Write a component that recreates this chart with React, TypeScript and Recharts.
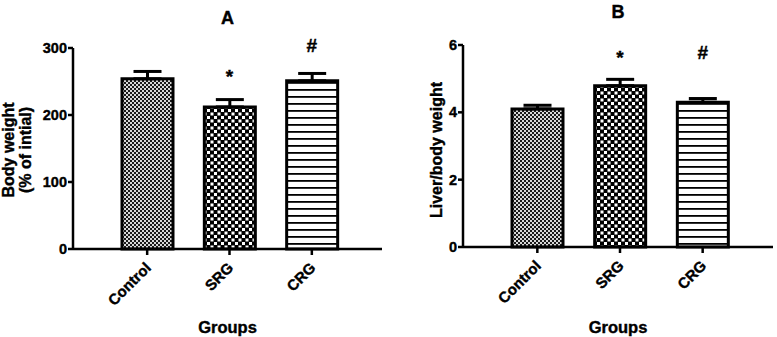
import React from "react";
import {
  BarChart,
  Bar,
  XAxis,
  YAxis,
  ErrorBar,
  ReferenceDot,
  Cell,
} from "recharts";

const FONT = '"Liberation Sans", Arial, Helvetica, sans-serif';
const HEAVY = { stroke: "#000", strokeWidth: 0.4 };

const groups = ["Control", "SRG", "CRG"];

// Panel A: body weight, % of initial
const bodyWeight = [254, 212, 251];
const bodyWeightSem = [11, 11, 11];
const bodyWeightTicks = [0, 100, 200, 300];
const bodyWeightMarks = ["", "*", "#"];
const bodyWeightMarkLevels = [0, 258, 304];

// Panel B: liver / body weight ratio
const liverRatio = [4.1, 4.79, 4.3];
const liverRatioSem = [0.11, 0.19, 0.11];
const liverRatioTicks = [0, 2, 4, 6];
const liverRatioMarks = ["", "*", "#"];
const liverRatioMarkLevels = [0, 5.64, 5.79];

const patternIds = ["fineCheck", "coarseCheck", "hStripes"];

function Patterns() {
  return (
    <defs>
      <pattern id="fineCheck" width="4" height="4" patternUnits="userSpaceOnUse">
        <rect width="4" height="4" fill="#1a1a1a" />
        <rect x="0" y="0" width="2" height="2" fill="#d8d8d8" />
        <rect x="2" y="2" width="2" height="2" fill="#d8d8d8" />
      </pattern>
      <pattern id="coarseCheck" width="7" height="7" patternUnits="userSpaceOnUse">
        <rect width="7" height="7" fill="#000" />
        <rect x="0.5" y="0.5" width="3" height="3" fill="#fff" />
        <rect x="4" y="4" width="3" height="3" fill="#fff" />
      </pattern>
      <pattern id="hStripes" width="7" height="7" patternUnits="userSpaceOnUse">
        <rect width="7" height="7" fill="#fff" />
        <rect x="0" y="5" width="7" height="1.8" fill="#000" />
      </pattern>
    </defs>
  );
}

function GroupTick({ x, y, payload }: any) {
  return (
    <g transform={`translate(${x + 1},${y + 8})`}>
      <text
        x={0}
        y={0}
        dy="0.35em"
        transform="rotate(-45)"
        textAnchor="end"
        fill="#000"
        fontFamily={FONT}
        fontWeight={700}
        fontSize={15}
        {...HEAVY}
      >
        {payload.value}
      </text>
    </g>
  );
}

interface PanelProps {
  title: string;
  yLabel: string[];
  labelX: number[];
  values: number[];
  sem: number[];
  ticks: number[];
  marks: string[];
  markLevels: number[];
  width: number;
  top: number;
  bottom: number;
  right: number;
  titleY: number;
}

function Panel({
  title,
  yLabel,
  labelX,
  values,
  sem,
  ticks,
  marks,
  markLevels,
  width,
  top,
  bottom,
  right,
  titleY,
}: PanelProps) {
  const height = 337;
  const data = groups.map((g, i) => ({
    name: g,
    value: values[i],
    err: [0, sem[i]],
  }));
  const plotLeft = 73;
  const plotMid = (plotLeft + width - right) / 2;

  return (
    <div style={{ position: "relative", width, height }}>
      <BarChart
        width={width}
        height={height}
        data={data}
        margin={{ top, right, bottom: 0, left: 13 }}
      >
        <Patterns />
        <XAxis
          dataKey="name"
          height={height - bottom}
          padding={{ left: 33, right: 29 }}
          stroke="#000"
          strokeWidth={2.5}
          tickSize={6}
          tickLine={{ stroke: "#000", strokeWidth: 2.5 }}
          tick={<GroupTick />}
          interval={0}
        />
        <YAxis
          width={60}
          domain={[ticks[0], ticks[ticks.length - 1]]}
          ticks={ticks}
          stroke="#000"
          strokeWidth={2.5}
          tickSize={5}
          tickMargin={1}
          tickLine={{ stroke: "#000", strokeWidth: 2.5 }}
          tick={{
            fill: "#000",
            fontSize: 14.5,
            fontWeight: 700,
            fontFamily: FONT,
            ...HEAVY,
          }}
        />
        <Bar
          dataKey="value"
          barSize={51}
          stroke="#000"
          strokeWidth={3}
          isAnimationActive={false}
        >
          {data.map((d, i) => (
            <Cell key={d.name} fill={`url(#${patternIds[i]})`} />
          ))}
          <ErrorBar
            dataKey="err"
            direction="y"
            width={14}
            stroke="#000"
            strokeWidth={3}
            isAnimationActive={false}
          />
        </Bar>
        {marks.map((m, i) =>
          m ? (
            <ReferenceDot
              key={`mark-${i}`}
              x={groups[i]}
              y={markLevels[i]}
              r={0}
              ifOverflow="visible"
              label={{
                value: m,
                position: "center",
                fill: "#000",
                fontSize: 19,
                fontWeight: 700,
                fontFamily: FONT,
                ...HEAVY,
              }}
            />
          ) : null
        )}
      </BarChart>

      <svg
        width={width}
        height={height}
        style={{ position: "absolute", left: 0, top: 0, pointerEvents: "none" }}
        fontFamily={FONT}
        fontWeight={700}
        fill="#000"
        stroke="#000"
        strokeWidth={0.4}
      >
        <text x={plotMid} y={titleY} textAnchor="middle" fontSize={18}>
          {title}
        </text>
        <text x={plotMid} y={333} textAnchor="middle" fontSize={16.5}>
          Groups
        </text>
        {yLabel.map((line, i) => (
          <text
            key={line}
            x={labelX[i]}
            y={150}
            textAnchor="middle"
            fontSize={16}
            transform={`rotate(-90, ${labelX[i]}, 150)`}
          >
            {line}
          </text>
        ))}
      </svg>
    </div>
  );
}

export default function App() {
  return (
    <div
      style={{
        position: "absolute",
        left: 0,
        top: 0,
        width: 777,
        height: 337,
        background: "#fff",
        display: "flex",
      }}
    >
      <Panel
        title="A"
        yLabel={["Body weight", "(% of intial)"]}
        labelX={[14, 31]}
        values={bodyWeight}
        sem={bodyWeightSem}
        ticks={bodyWeightTicks}
        marks={bodyWeightMarks}
        markLevels={bodyWeightMarkLevels}
        width={390}
        top={48}
        bottom={249}
        right={8}
        titleY={24}
      />
      <Panel
        title="B"
        yLabel={["Liver/body weight"]}
        labelX={[52]}
        values={liverRatio}
        sem={liverRatioSem}
        ticks={liverRatioTicks}
        marks={liverRatioMarks}
        markLevels={liverRatioMarkLevels}
        width={387}
        top={45}
        bottom={247}
        right={4}
        titleY={18}
      />
    </div>
  );
}
